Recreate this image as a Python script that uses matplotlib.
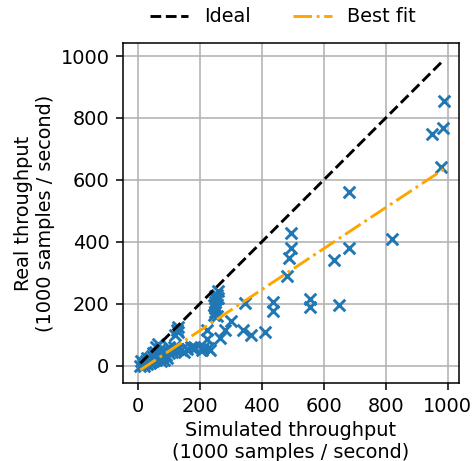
import numpy as np
import matplotlib.pyplot as plt

# original looks like a 10pt figure scaled up by ~1.39
k = 1.39
plt.rcParams.update({
    'font.size': 10 * k,
    'lines.linewidth': 1.5 * k,
    'axes.linewidth': 0.8 * k,
    'grid.linewidth': 0.8 * k,
    'xtick.major.size': 3.5 * k,
    'ytick.major.size': 3.5 * k,
    'xtick.major.width': 0.8 * k,
    'ytick.major.width': 0.8 * k,
    'xtick.major.pad': 3.5 * k,
    'ytick.major.pad': 3.5 * k,
})

# --- data (1000 samples / second) ---
sim = [987, 984, 949, 979, 682, 821, 680, 634, 556, 556, 648,
       493, 493, 489, 480, 435, 435, 410, 365, 340, 345, 299, 281, 265,
       222, 222, 211, 232, 181, 173, 184, 206, 227,
       258, 255, 250, 252, 248, 245, 250, 248, 245, 255, 260,
       125, 128, 130, 120,
       65, 60, 55, 70, 50, 45, 40, 35, 30, 25, 20, 15, 10, 8, 20, 30,
       40, 50, 60, 70, 80, 90, 100, 110, 95, 85, 75, 105, 115, 120, 130,
       140, 100, 150, 80, 60, 45, 160, 70]
real = [856, 768, 747, 642, 560, 409, 381, 340, 215, 190, 197,
        427, 381, 349, 290, 205, 178, 110, 99, 115, 201, 145, 115, 90,
        115, 85, 56, 51, 61, 61, 56, 51, 56,
        240, 230, 225, 215, 205, 195, 185, 175, 165, 160, 220,
        115, 125, 110, 100,
        70, 60, 45, 55, 40, 30, 25, 20, 25, 15, 10, 5, 15, 0, 0, 5,
        10, 15, 20, 25, 30, 35, 40, 45, 25, 20, 15, 55, 60, 50, 55,
        50, 60, 45, 45, 35, 15, 55, 40]

# best fit
fit_slope = 0.662
fit_intercept = -19.0

sim = np.array(sim)
real = np.array(real)
xs = np.array([sim.min(), sim.max()])

fig = plt.figure(figsize=(4.74, 4.61), dpi=100)
ax = fig.add_axes([0.2595, 0.169, 0.7085, 0.7377])
ax.scatter(sim, real, marker='x', color='C0', s=36 * k * k, linewidths=1.5 * k, zorder=3)
ax.plot(xs, xs, 'k--', label='Ideal', zorder=4)
ax.plot(xs, fit_slope * xs + fit_intercept, '-.', color='orange', label='Best fit', zorder=4)

ax.set_xlim(-48, 1036)
ax.set_ylim(-56, 1042)
ax.set_xticks(range(0, 1001, 200))
ax.set_yticks(range(0, 1001, 200))
ax.grid(True)
ax.set_axisbelow(True)
ax.set_xlabel("Simulated throughput\n(1000 samples / second)")
ax.set_ylabel("Real throughput\n(1000 samples / second)")
ax.legend(loc='lower center', bbox_to_anchor=(0.476, 1.015), ncol=2, frameon=False,
          borderaxespad=0.2, columnspacing=2.2)

fig.savefig('out.png', dpi=100)
